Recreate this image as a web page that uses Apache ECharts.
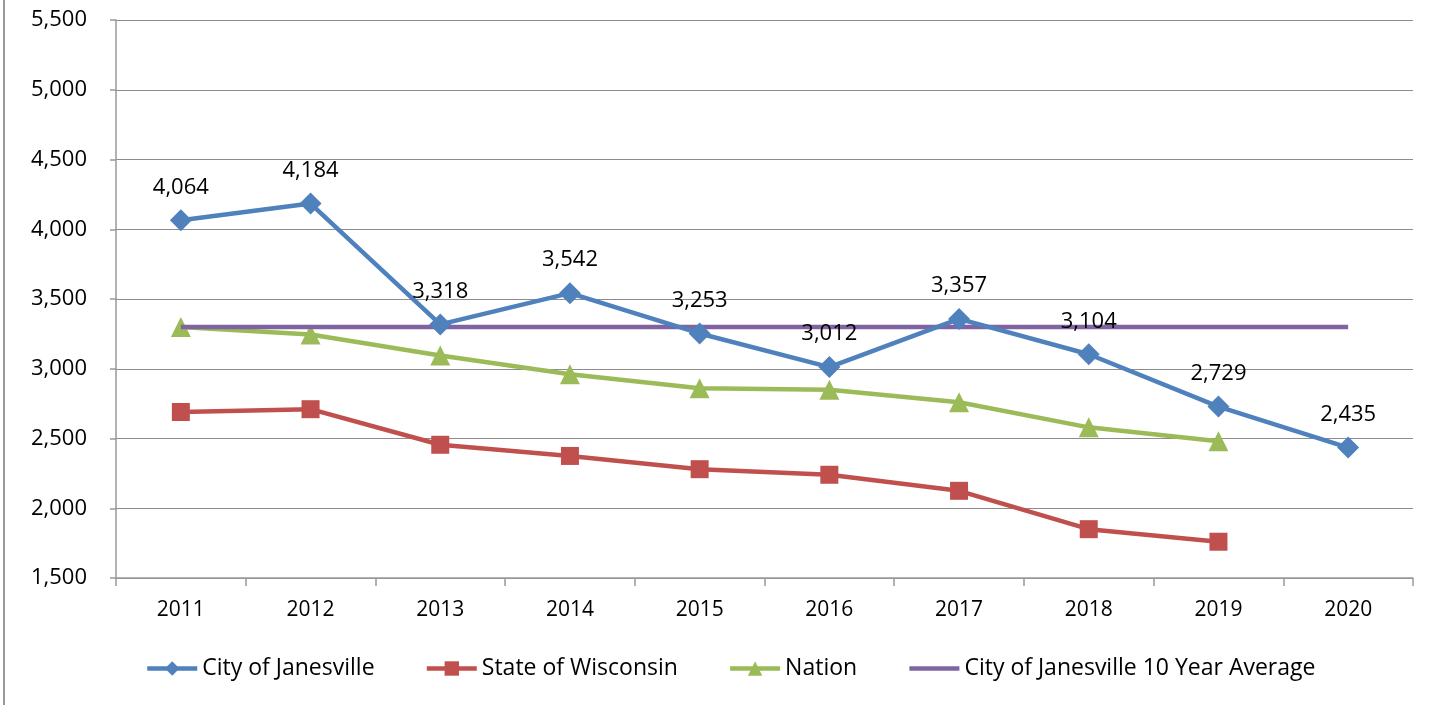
<!DOCTYPE html>
<html><head><meta charset="utf-8">
<script src="https://cdn.jsdelivr.net/npm/echarts@6/dist/echarts.min.js"></script>
<style>html,body{margin:0;padding:0;background:#fff}#c{width:1437px;height:705px}</style>
</head><body><div id="c"></div>
<script>
const categories = ['2011','2012','2013','2014','2015','2016','2017','2018','2019','2020'];
const janesville = [4064, 4184, 3318, 3542, 3253, 3012, 3357, 3104, 2729, 2435];
const wisconsin = [2690, 2710, 2455, 2375, 2280, 2240, 2125, 1850, 1760, null];
const nation = [3300, 3245, 3095, 2960, 2860, 2850, 2760, 2580, 2480, null];
const average = [3300, 3300, 3300, 3300, 3300, 3300, 3300, 3300, 3300, 3300];
const yTicks = {min: 1500, max: 5500, interval: 500};

const font = '"Open Sans", sans-serif';
const chart = echarts.init(document.getElementById('c'));
chart.setOption({
  animation: false,
  backgroundColor: '#fff',
  grid: {left: 116, right: 24, top: 20, bottom: 127},
  graphic: [{type: 'rect', shape: {x: 3, y: 0, width: 2, height: 705}, style: {fill: '#999'}}],
  legend: {
    top: 652, left: 140, itemGap: 50, itemWidth: 50, itemHeight: 18,
    lineStyle: {width: 4.5},
    textStyle: {fontFamily: font, fontSize: 23, color: '#000', padding: [0, 0, 0, 0]},
    data: ['City of Janesville', 'State of Wisconsin', 'Nation',
      {name: 'City of Janesville 10 Year Average', itemStyle: {opacity: 0}}]
  },
  xAxis: {
    type: 'category', data: categories, boundaryGap: true,
    axisLine: {lineStyle: {color: '#999', width: 1.5}},
    axisTick: {show: true, length: 8, alignWithLabel: false, lineStyle: {color: '#999', width: 1.5}},
    axisLabel: {margin: 22, fontFamily: font, fontSize: 21, color: '#000'}
  },
  yAxis: {
    type: 'value', min: yTicks.min, max: yTicks.max, interval: yTicks.interval,
    axisLine: {show: true, lineStyle: {color: '#999', width: 1.5}},
    axisTick: {show: true, length: 6, lineStyle: {color: '#999', width: 1.5}},
    splitLine: {lineStyle: {color: '#8c8c8c', width: 1.2}},
    axisLabel: {margin: 29, fontFamily: font, fontSize: 22, color: '#000',
      formatter: v => v.toLocaleString('en-US')}
  },
  series: [
    {name: 'City of Janesville', type: 'line', data: janesville, z: 5,
     symbol: 'diamond', symbolSize: 22, lineStyle: {width: 4.5, color: '#4F81BD'},
     itemStyle: {color: '#4F81BD'},
     label: {show: true, position: 'top', distance: 11, fontFamily: font, fontSize: 22, color: '#000',
       formatter: p => p.value.toLocaleString('en-US')}},
    {name: 'State of Wisconsin', type: 'line', data: wisconsin, z: 3,
     symbol: 'rect', symbolSize: 18, lineStyle: {width: 4.5, color: '#C0504D'},
     itemStyle: {color: '#C0504D'}},
    {name: 'Nation', type: 'line', data: nation, z: 3,
     symbol: 'triangle', symbolSize: 20, lineStyle: {width: 4.5, color: '#9BBB59'},
     itemStyle: {color: '#9BBB59'}},
    {name: 'City of Janesville 10 Year Average', type: 'line', data: average, z: 4,
     symbol: 'none', lineStyle: {width: 4.5, color: '#8064A2'}, itemStyle: {color: '#8064A2'}}
  ]
});
</script></body></html>
